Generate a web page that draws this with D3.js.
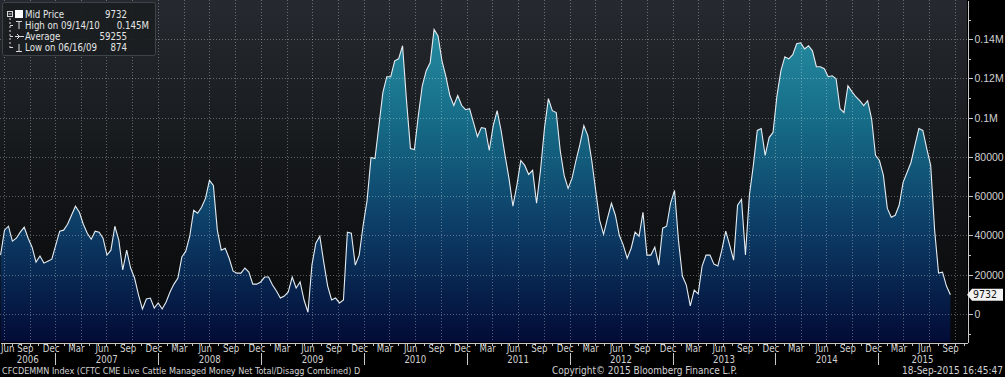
<!DOCTYPE html>
<html lang="en">
<head>
<meta charset="UTF-8">
<title>CFCDEMMN Index</title>
<style>
  body { margin: 0; background: #000; }
  svg { display: block; font-family: "Liberation Sans Narrow", "DejaVu Sans Condensed", "Liberation Sans", Arial, sans-serif; }
  .axis path, .axis line { stroke: #c8c8c8; shape-rendering: crispEdges; }
  .axis text { fill: #d2d2d2; font-size: 10.5px; }
  .grid line { stroke: #ffffff; stroke-opacity: 0.32; stroke-dasharray: 1,2; shape-rendering: crispEdges; }
  .lbl { fill: #d2d2d2; font-size: 9.6px; }
</style>
</head>
<body>
<svg id="chart"></svg>
<script src="https://cdn.jsdelivr.net/npm/d3@7"></script>
<script>
var startDate = "2006-06-20";
var stepDays = 14;
var values = [
  30000, 42700, 44700, 37100, 38600, 41700, 44200, 38600, 34000, 26400,
  29500, 25900, 26900, 27900, 35100, 42200, 42700, 45700, 50300, 54900,
  51800, 45700, 41100, 38100, 42200, 41700, 38600, 30000, 32500, 44700,
  37600, 22400, 32500, 23400, 18300, 9700, 2500, 7600, 8100, 3000,
  5600, 2500, 6100, 11200, 15200, 18300, 29000, 32000, 39600, 52800,
  51300, 54400, 58900, 68100, 65500, 42700, 32500, 33500, 28400, 21800,
  20800, 20800, 23400, 21300, 15200, 15200, 16300, 18800, 18800, 14700,
  11700, 8100, 9100, 11200, 18800, 13200, 16300, 7100, 874, 24900,
  36100, 39600, 26400, 14200, 7100, 8100, 5600, 7100, 41700, 41100,
  24900, 30000, 45200, 57900, 79800, 79200, 96000, 112800, 120900, 120900,
  129000, 130000, 136700, 108700, 84300, 83800, 101100, 116300, 124000, 128000,
  145000, 141700, 129000, 120900, 111300, 106200, 111300, 106200, 104100, 104600,
  97500, 90400, 95000, 94500, 83300, 96000, 103600, 93500, 80800, 69100,
  54900, 65500, 78200, 75700, 71100, 73200, 56400, 73200, 94500, 109700,
  103600, 102600, 83300, 70600, 64000, 69100, 78200, 86400, 96000, 90900,
  78200, 63000, 47800, 40600, 48800, 56400, 50300, 40100, 35100, 28400,
  33500, 41700, 39600, 51800, 30000, 30000, 34000, 24900, 43700, 44700,
  56400, 63000, 37600, 19300, 14700, 4100, 12200, 10200, 24400, 30000,
  30000, 25400, 24400, 32500, 42200, 35100, 27400, 55400, 58400, 30000,
  60500, 75700, 93500, 94500, 80800, 89900, 92500, 111300, 124000, 131100,
  130000, 132100, 137700, 138200, 135100, 136700, 134100, 126000, 126000, 125000,
  120900, 121400, 119900, 104600, 102600, 116300, 113300, 110700, 108700, 106200,
  108700, 99600, 80800, 78200, 70600, 53800, 49300, 50300, 55400, 67100,
  72100, 77200, 85900, 94500, 93500, 84300, 75700, 42700, 20800, 21300,
  14200, 9732
];

var yTicks = [0, 20000, 40000, 60000, 80000, 100000, 120000, 140000];
var yTickLabels = ["0", "20000", "40000", "60000", "80000", "0.1M", "0.12M", "0.14M"];
var yMinorTicks = [-10000, 10000, 30000, 50000, 70000, 90000, 110000, 130000, 150000];
var monthNames = ["Jan", "Feb", "Mar", "Apr", "May", "Jun", "Jul", "Aug", "Sep", "Oct", "Nov", "Dec"];
var labelMonths = [2, 5, 8, 11];

var legendLabels = ["Mid Price", "High on 09/14/10", "Average", "Low on 06/16/09"];
var legendValues = ["9732", "0.145M", "59255", "874"];

var footerLeft = "CFCDEMMN Index (CFTC CME Live Cattle Managed Money Net Total/Disagg Combined)  D";
var footerMid = "Copyright\u00a9 2015 Bloomberg Finance L.P.";
var footerRight = "18-Sep-2015 16:45:47";

var w = 1005, h = 377;
var plot = {left: 0, top: 0, right: 967, bottom: 342};

var svg = d3.select("#chart").attr("width", w).attr("height", h);
svg.append("rect").attr("width", w).attr("height", h).attr("fill", "#000");

var parse = d3.timeParse("%Y-%m-%d");
var t0 = parse(startDate);
var data = values.map(function(v, i) {
  return {date: d3.timeDay.offset(t0, i * stepDays), value: v};
});

var xScale = d3.scaleTime()
  .domain([parse("2006-06-18"), parse("2015-11-13")])
  .range([plot.left, plot.right]);
var yScale = d3.scaleLinear()
  .domain([-14300, 160000])
  .range([plot.bottom, plot.top]);

// gradients
var defs = svg.append("defs");
var bg = defs.append("linearGradient").attr("id", "bgGrad")
  .attr("gradientUnits", "userSpaceOnUse")
  .attr("x1", 0).attr("y1", plot.top).attr("x2", 0).attr("y2", plot.bottom);
bg.append("stop").attr("offset", "0%").attr("stop-color", "#262a30");
bg.append("stop").attr("offset", "45%").attr("stop-color", "#16191c");
bg.append("stop").attr("offset", "100%").attr("stop-color", "#060708");

var fillGrad = defs.append("linearGradient").attr("id", "areaGrad")
  .attr("gradientUnits", "userSpaceOnUse")
  .attr("x1", 0).attr("y1", plot.top).attr("x2", 0).attr("y2", plot.bottom);
fillGrad.append("stop").attr("offset", "0%").attr("stop-color", "#2a96a8");
fillGrad.append("stop").attr("offset", "35%").attr("stop-color", "#166c87");
fillGrad.append("stop").attr("offset", "65%").attr("stop-color", "#0d3f68");
fillGrad.append("stop").attr("offset", "100%").attr("stop-color", "#020b36");

svg.append("rect")
  .attr("x", plot.left).attr("y", plot.top)
  .attr("width", plot.right - plot.left).attr("height", plot.bottom - plot.top)
  .attr("fill", "url(#bgGrad)");

// area + line
var area = d3.area()
  .x(function(d) { return xScale(d.date); })
  .y0(plot.bottom)
  .y1(function(d) { return yScale(d.value); });
var line = d3.line()
  .x(function(d) { return xScale(d.date); })
  .y(function(d) { return yScale(d.value); });

svg.append("path").datum(data).attr("d", area).attr("fill", "url(#areaGrad)");

// grid
var grid = svg.append("g").attr("class", "grid");
grid.selectAll(".h").data(yTicks).enter().append("line")
  .attr("x1", plot.left).attr("x2", plot.right)
  .attr("y1", function(d) { return Math.round(yScale(d)) + 0.5; })
  .attr("y2", function(d) { return Math.round(yScale(d)) + 0.5; });
var quarters = d3.timeMonth.every(3).range(xScale.domain()[0], xScale.domain()[1]);
grid.selectAll(".v").data(quarters).enter().append("line")
  .attr("x1", function(d) { return Math.round(xScale(d)) + 0.5; })
  .attr("x2", function(d) { return Math.round(xScale(d)) + 0.5; })
  .attr("y1", plot.top).attr("y2", plot.bottom);

svg.append("path").datum(data).attr("d", line)
  .attr("fill", "none").attr("stroke", "#e4ecf2").attr("stroke-width", 1.1);

// right axis
var yAxis = d3.axisRight(yScale).tickValues(yTicks).tickSize(5).tickSizeOuter(0)
  .tickFormat(function(d, i) { return yTickLabels[i]; });
var gy = svg.append("g").attr("class", "axis")
  .attr("transform", "translate(" + (plot.right + 0.5) + ",0)")
  .call(yAxis);
gy.selectAll("text").attr("x", 7);
var yMinor = d3.axisRight(yScale).tickValues(yMinorTicks).tickSize(3).tickSizeOuter(0)
  .tickFormat("");
svg.append("g").attr("class", "axis")
  .attr("transform", "translate(" + (plot.right + 0.5) + ",0)")
  .call(yMinor).select(".domain").remove();

// bottom axis with month ticks
var months = d3.timeMonth.range(xScale.domain()[0], xScale.domain()[1]);
var xAxis = d3.axisBottom(xScale).tickValues(months).tickSize(3).tickSizeOuter(0).tickFormat("");
svg.append("g").attr("class", "axis")
  .attr("transform", "translate(0," + (plot.bottom + 0.5) + ")")
  .call(xAxis);

// helper: centre of the visible part of a time span
function spanCentre(a, b) {
  var xa = Math.max(plot.left, xScale(a));
  var xb = Math.min(plot.right, xScale(b));
  return (xa + xb) / 2;
}

var monthLabels = svg.append("g");
var allMonths = d3.timeMonth.range(d3.timeMonth.floor(xScale.domain()[0]), xScale.domain()[1]);
allMonths.filter(function(m) { return labelMonths.indexOf(m.getMonth()) >= 0; })
  .forEach(function(m) {
    var t = monthLabels.append("text").attr("class", "lbl")
      .attr("y", 352).attr("text-anchor", "middle")
      .text(monthNames[m.getMonth()]);
    var half = t.node().getComputedTextLength() / 2;
    var cx = spanCentre(m, d3.timeMonth.offset(m, 1));
    cx = Math.max(half + 1, Math.min(plot.right - half, cx));
    t.attr("x", cx);
  });

var yearStarts = d3.timeYear.range(d3.timeYear.floor(xScale.domain()[0]), xScale.domain()[1]);
yearStarts.forEach(function(y) {
  svg.append("text").attr("class", "lbl")
    .attr("x", spanCentre(y, d3.timeYear.offset(y, 1))).attr("y", 363)
    .attr("text-anchor", "middle")
    .text(y.getFullYear());
  if (xScale(y) > plot.left) {
    svg.append("line")
      .attr("x1", Math.round(xScale(y)) + 0.5).attr("x2", Math.round(xScale(y)) + 0.5)
      .attr("y1", 353).attr("y2", 365)
      .attr("stroke", "#c8c8c8");
  }
});

// last value tag
var ly = yScale(values[values.length - 1]);
svg.append("path")
  .attr("d", "M" + (plot.right) + "," + ly + "L" + (plot.right + 5) + "," + (ly - 6) +
    "L" + (w - 2) + "," + (ly - 6) + "L" + (w - 2) + "," + (ly + 6) +
    "L" + (plot.right + 5) + "," + (ly + 6) + "Z")
  .attr("fill", "#f2f2f2");
svg.append("text")
  .attr("x", plot.right + 6).attr("y", ly + 3.5)
  .attr("fill", "#111").attr("font-size", "10.5px")
  .text(legendValues[0]);

// footer
svg.append("text").attr("class", "lbl").attr("x", 2).attr("y", 374)
  .style("font-size", "9px").text(footerLeft);
svg.append("text").attr("class", "lbl").attr("x", 552).attr("y", 374)
  .style("font-size", "10px").text(footerMid);
svg.append("text").attr("class", "lbl").attr("x", w - 2).attr("y", 374)
  .style("font-size", "10px").attr("text-anchor", "end").text(footerRight);

// legend box
var lg = svg.append("g");
lg.append("rect").attr("x", 2.5).attr("y", 2.5).attr("width", 153).attr("height", 53)
  .attr("rx", 2).attr("fill", "#1a1d21").attr("fill-opacity", 0.92)
  .attr("stroke", "#3e4348");
var rowY = [14.5, 25.5, 36.5, 47.5];
legendLabels.forEach(function(s, i) {
  lg.append("text").attr("x", 25).attr("y", rowY[i] + 3.5)
    .attr("fill", "#e6e6e6").attr("font-size", "9.6px").text(s);
});
var valueX = [127, 149, 127, 127];
legendValues.forEach(function(s, i) {
  lg.append("text").attr("x", valueX[i]).attr("y", rowY[i] + 3.5)
    .attr("text-anchor", "end")
    .attr("fill", "#e6e6e6").attr("font-size", "9.6px").text(s);
});
// legend icons
var ic = "#d8d8d8";
lg.append("rect").attr("x", 7.5).attr("y", 11.5).attr("width", 5).attr("height", 5)
  .attr("fill", "none").attr("stroke", ic);
lg.append("line").attr("x1", 8.5).attr("x2", 11.5).attr("y1", 14).attr("y2", 14).attr("stroke", ic);
lg.append("rect").attr("x", 15).attr("y", 10).attr("width", 8).attr("height", 8).attr("fill", "#fff");
lg.append("line").attr("x1", 10).attr("x2", 10).attr("y1", 18).attr("y2", 50)
  .attr("stroke", ic).attr("stroke-dasharray", "2,2");
[1, 2, 3].forEach(function(i) {
  lg.append("line").attr("x1", 10).attr("x2", 13).attr("y1", rowY[i]).attr("y2", rowY[i]).attr("stroke", ic);
});
lg.append("line").attr("x1", 16).attr("x2", 22).attr("y1", 21.5).attr("y2", 21.5).attr("stroke", ic);
lg.append("line").attr("x1", 19).attr("x2", 19).attr("y1", 21.5).attr("y2", 29).attr("stroke", ic);
lg.append("line").attr("x1", 15).attr("x2", 24).attr("y1", 36.5).attr("y2", 36.5).attr("stroke", ic);
lg.append("path").attr("d", "M17,34L19.5,36.5L17,39").attr("fill", "none").attr("stroke", ic);
lg.append("line").attr("x1", 19).attr("x2", 19).attr("y1", 44).attr("y2", 51).attr("stroke", ic);
lg.append("line").attr("x1", 16).attr("x2", 22).attr("y1", 51.5).attr("y2", 51.5).attr("stroke", ic);
</script>
</body>
</html>
